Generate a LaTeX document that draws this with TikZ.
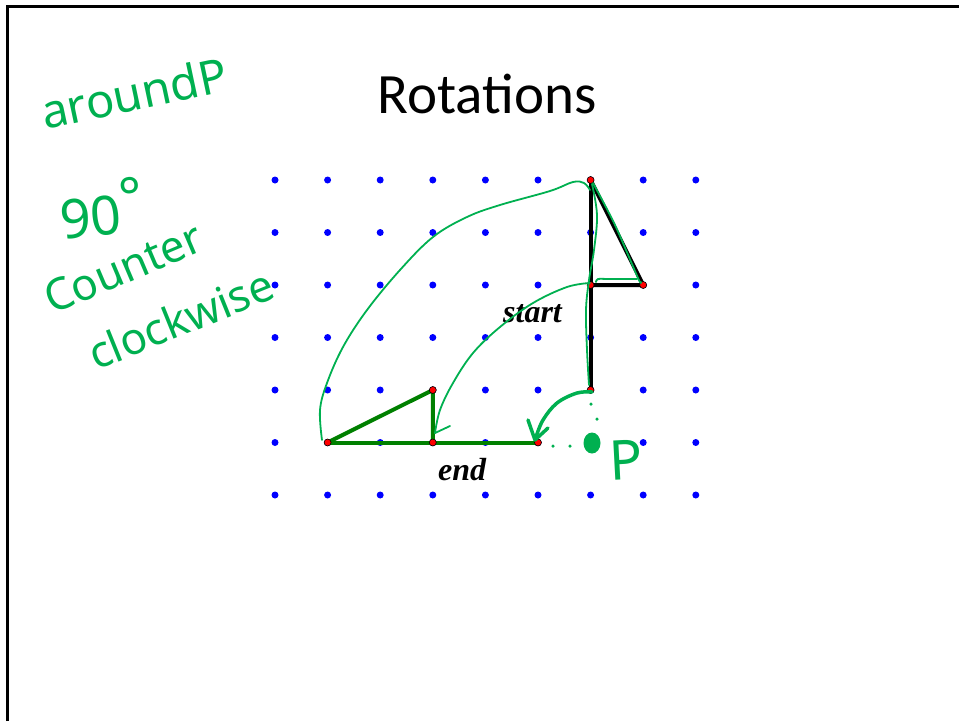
\documentclass[tikz,border=0pt]{standalone}
\usepackage{fontspec}
\setmainfont{Liberation Serif}
\newfontfamily\titlefont{Carlito}
\newfontfamily\handfont{Noto Sans}
\begin{document}
\begin{tikzpicture}[x=1pt,y=-1pt]
\definecolor{hand}{RGB}{0,176,80}
\definecolor{figgreen}{RGB}{0,128,0}
\definecolor{dotblue}{RGB}{0,0,255}
\tikzset{
  griddot/.style={circle,fill=dotblue,inner sep=0,minimum size=7pt},
  vertexdot/.style={circle,fill=red,draw=black,line width=0.6pt,inner sep=0,minimum size=7pt},
  startline/.style={line width=4pt,black},
  endline/.style={line width=4pt,figgreen},
  handline/.style={hand,line width=1.8pt,line cap=round,line join=round},
  handthick/.style={hand,line width=3.5pt,line cap=round,line join=round},
  handtext/.style={text=hand,inner sep=0,anchor=base west},
  figlabel/.style={font=\bfseries\itshape\fontsize{32}{38}\selectfont,inner sep=0,anchor=base west},
  handdot/.style={circle,fill=hand,inner sep=0,minimum size=3.5pt},
}
\useasboundingbox (0,0) rectangle (959,721);
\draw[line width=3pt] (7.5,721) -- (7.5,6.5) -- (959,6.5);

\node[anchor=base,inner sep=0,font=\titlefont\fontsize{57}{60}\selectfont] (title) at (487,113) {Rotations};

\foreach \i in {0,...,8}
  \foreach \j in {0,...,6}
    \node[griddot] (g-\i-\j) at ({275+52.6*\i},{180+52.5*\j}) {};

% start figure
\draw[startline] (g-6-0.center) -- (g-6-4.center);
\draw[startline,line join=miter] (g-6-0.center) -- (g-7-2.center) -- (g-6-2.center);
% end figure
\draw[endline] (g-1-5.center) -- (g-5-5.center);
\draw[endline] (g-1-5.center) -- (g-3-4.center) -- (g-3-5.center);

\foreach \p in {6-0,6-2,7-2,6-4,1-5,3-4,3-5,5-5}
  \node[vertexdot] (v-\p) at (g-\p) {};

\node[figlabel] (start) at (503,322) {start};
\node[figlabel] (end) at (438,480) {end};

% hand-drawn strokes
\draw[handline] plot[smooth,tension=0.6] coordinates {(590,190) (584,183) (573,182) (550,191) (500,205) (467,217) (433,237) (400,270) (367,310) (343,347) (327,383) (320,410) (322,440)};
\draw[handline] plot[smooth,tension=0.6] coordinates {(592,184) (597,215) (594,250) (589,280) (586,310) (587,350) (589,385)};
\draw[handline] plot[smooth,tension=0.5] coordinates {(593,183) (615,225) (638,278) (641,282)};
\draw[handline] plot[smooth,tension=0.5] coordinates {(637,279) (610,279) (598,279) (596,282)};
\draw[handline] plot[smooth,tension=0.6] coordinates {(590,283) (567,287) (533,303) (500,327) (473,353) (453,383) (440,410) (435,433)};
\draw[handline] (435,433) -- (450,426);
\draw[handthick] plot[smooth,tension=0.6] coordinates {(592,392) (577,393) (557,403) (543,420) (536,437)};
\draw[handthick] (528,420) -- (535,440) -- (548,428);

\node[handdot] (d1) at (591,404) {};
\node[handdot] (d2) at (597,419) {};
\node[handdot] (d3) at (553,446) {};
\node[handdot] (d4) at (570,446) {};
\fill[hand] (592,443) ellipse [x radius=8.5, y radius=10.5];

\node[handtext,font=\handfont\fontsize{47}{50}\selectfont,rotate=12] (around) at (45,130) {aroundP};
\node[handtext,font=\handfont\fontsize{54}{58}\selectfont,rotate=6] (deg) at (62,240) {90\raisebox{0.3em}{°}};
\node[handtext,font=\handfont\fontsize{44}{48}\selectfont,rotate=23] (counter) at (52,315) {Counter};
\node[handtext,font=\handfont\fontsize{44}{48}\selectfont,rotate=22] (clock) at (96,371) {clockwise};
\node[handtext,font=\handfont\fontsize{55}{60}\selectfont,rotate=3] (pname) at (610,481) {P};
\end{tikzpicture}
\end{document}
